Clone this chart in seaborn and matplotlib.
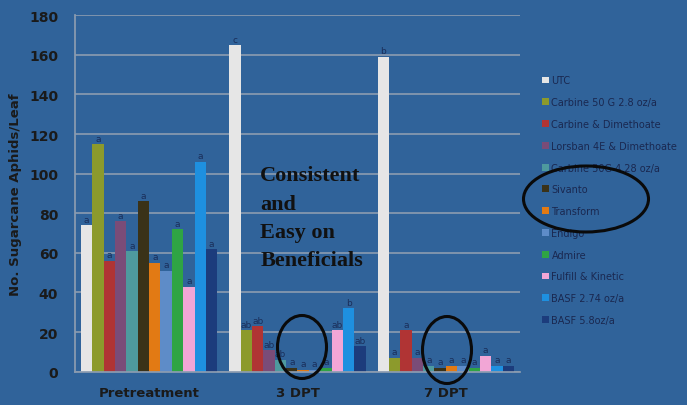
import matplotlib
matplotlib.use("Agg")
import matplotlib.pyplot as plt
import seaborn as sns
import pandas as pd
from matplotlib.patches import Ellipse

timings = ["Pretreatment", "3 DPT", "7 DPT"]
treatments = ["UTC", "Carbine 50 G 2.8 oz/a", "Carbine & Dimethoate",
              "Lorsban 4E & Dimethoate", "Carbine 50G 4.28 oz/a", "Sivanto",
              "Transform", "Endigo", "Admire", "Fulfill & Kinetic",
              "BASF 2.74 oz/a", "BASF 5.8oz/a"]
pre_vals = [74, 115, 56, 76, 61, 86, 55, 51, 72, 43, 106, 62]
dpt3_vals = [165, 21, 23, 11, 6, 2, 1, 1, 2, 21, 32, 13]
dpt7_vals = [159, 7, 21, 7, 3, 2, 3, 3, 2, 8, 3, 3]
pre_letters = ["a"] * 12
dpt3_letters = ["c", "ab", "ab", "ab", "ab", "a", "a", "a", "a", "ab", "b", "ab"]
dpt7_letters = ["b"] + ["a"] * 11
yticks = [0, 20, 40, 60, 80, 100, 120, 140, 160, 180]
colors = ["#E6E6E6", "#8C9A2C", "#B03434", "#7A4C78", "#4E9A9E", "#3A3218",
          "#E27A14", "#5E8CC8", "#2FA444", "#F2A6D6", "#1E90E0", "#1C3C7C"]

rows = []
for t, vals in zip(timings, [pre_vals, dpt3_vals, dpt7_vals]):
    for tr, v in zip(treatments, vals):
        rows.append({"Timing": t, "Treatment": tr, "Aphids": v})
df = pd.DataFrame(rows)

bg = "#30639A"
sns.set_theme(style="white")
fig = plt.figure(figsize=(6.87, 4.06), dpi=100, facecolor=bg)
ax = fig.add_axes([0.109, 0.082, 0.648, 0.878])
ax.set_facecolor(bg)

sns.barplot(data=df, x="Timing", y="Aphids", hue="Treatment",
            order=timings, hue_order=treatments, palette=colors,
            width=0.92, saturation=1, ax=ax, edgecolor="none", errorbar=None)

letters = [pre_letters, dpt3_letters, dpt7_letters]
for i, cont in enumerate(ax.containers):
    labs = [letters[j][i] for j in range(3)]
    ax.bar_label(cont, labels=labs, padding=1, fontsize=6.5, color="#1A2E5A")

ax.set_ylim(0, 180)
ax.set_yticks(yticks)
ax.yaxis.grid(True, color="#8C9CB0", linewidth=1.2)
ax.set_axisbelow(True)
for s in ["top", "right"]:
    ax.spines[s].set_visible(False)
for s in ["left", "bottom"]:
    ax.spines[s].set_color("#8C9CB0")
ax.tick_params(axis="y", labelsize=10, labelcolor="#1A1A1A", length=0, pad=12)
ax.tick_params(axis="x", labelsize=9.5, labelcolor="#1A1A1A", length=0, pad=10)
for lab in ax.get_yticklabels() + ax.get_xticklabels():
    lab.set_fontweight("bold")
ax.set_xlabel("")
ax.set_ylabel("No. Sugarcane Aphids/Leaf", fontsize=9.5, fontweight="bold",
              color="#1A1A1A", labelpad=5)

leg = ax.legend(loc="upper left", bbox_to_anchor=(1.04, 0.842), frameon=False,
                fontsize=7.0, labelspacing=1.21, handlelength=0.7,
                handleheight=0.7, handletextpad=0.3, borderaxespad=0)
for t in leg.get_texts():
    t.set_color("#1A2850")

fig.text(0.379, 0.590, "Consistent\nand\nEasy on\nBeneficials", fontsize=16,
         fontweight="bold", family="Liberation Serif", color="#111111",
         va="top", ha="left", linespacing=1.55)

for cx, cy, w, h in [(302, 348, 49, 63), (447, 351, 49, 67), (586, 200, 125, 66)]:
    e = Ellipse((cx / 687, 1 - cy / 406), w / 687, h / 406, transform=fig.transFigure,
                fill=False, edgecolor="#0A0A0A", linewidth=2.2, zorder=10)
    fig.patches.append(e)

fig.savefig("out.png", dpi=100, facecolor=bg)
